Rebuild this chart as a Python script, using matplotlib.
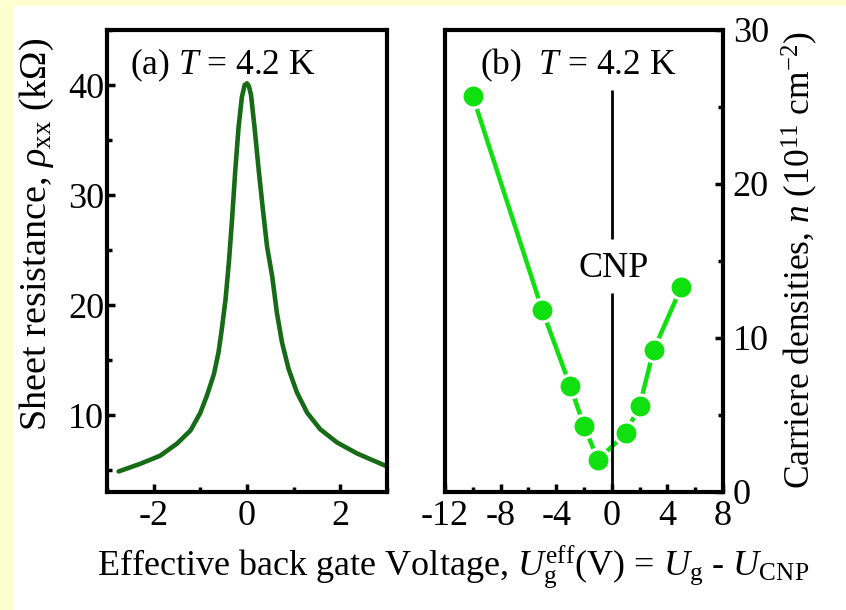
import numpy as np
import matplotlib
matplotlib.use('Agg')
import matplotlib.pyplot as plt
from matplotlib.ticker import MultipleLocator
from matplotlib.patches import Rectangle

plt.rcParams['font.family'] = ['Liberation Serif', 'DejaVu Serif']
plt.rcParams['mathtext.fontset'] = 'custom'
plt.rcParams['mathtext.rm'] = 'Liberation Serif'
plt.rcParams['mathtext.it'] = 'Liberation Serif:italic'
plt.rcParams['mathtext.bf'] = 'Liberation Serif:bold'
plt.rcParams['axes.unicode_minus'] = False

# (a) resistance vs effective gate voltage
ug_a = [-2.75, -2.29, -1.86, -1.5, -1.21, -1.0, -0.86, -0.71, -0.61, -0.54, -0.46,
        -0.39, -0.32, -0.25, -0.18, -0.11, -0.05, 0.0, 0.04, 0.086, 0.16, 0.25,
        0.34, 0.43, 0.54, 0.64, 0.75, 0.89, 1.07, 1.29, 1.57, 1.93, 2.36, 2.96]
rho_xx = [4.87, 5.56, 6.3, 7.4, 8.6, 10.2, 11.75, 13.7, 15.7, 17.8, 20.5,
          23.8, 27.8, 32.3, 36.2, 38.9, 40.0, 40.15, 39.9, 39.1, 36.2, 32.3,
          28.7, 25.3, 22.6, 19.3, 16.6, 14.2, 12.05, 10.2, 8.7, 7.5, 6.5, 5.4]

# (b) carrier densities vs effective gate voltage
ug_b = [-10, -5, -3, -2, -1, 1, 2, 3, 5]
n_dens = [25.7, 11.8, 6.9, 4.3, 2.1, 3.8, 5.6, 9.2, 13.3]

W, H = 846, 610
fig = plt.figure(figsize=(W / 100, H / 100), dpi=100, facecolor='white')

# pale yellow frame strips (left and top)
yel = '#fffed0'
fig.patches.append(Rectangle((0, 0), 13 / W, 1, transform=fig.transFigure,
                             facecolor=yel, edgecolor='none', zorder=0))
fig.patches.append(Rectangle((0, 1 - 6 / H), 1, 6 / H, transform=fig.transFigure,
                             facecolor=yel, edgecolor='none', zorder=0))

ax1 = fig.add_axes([107 / W, 1 - 492 / H, 280 / W, 462 / H])
ax2 = fig.add_axes([445 / W, 1 - 492 / H, 278 / W, 462 / H])

fs_tick = 26
for ax in (ax1, ax2):
    for sp in ax.spines.values():
        sp.set_linewidth(3)
    ax.tick_params(which='both', direction='in', width=2.5, labelsize=fs_tick)
    ax.tick_params(which='major', length=5.5)
    ax.tick_params(which='minor', length=3.5)

# panel (a)
ax1.plot(ug_a, rho_xx, color='#176b17', lw=3.3, solid_joinstyle='round',
         solid_capstyle='round')
ax1.set_xlim(-3, 3)
ax1.set_ylim(3, 45)
ax1.xaxis.set_major_locator(MultipleLocator(2))
ax1.xaxis.set_minor_locator(MultipleLocator(1))
ax1.yaxis.set_major_locator(MultipleLocator(10))
ax1.yaxis.set_minor_locator(MultipleLocator(5))
ax1.tick_params(axis='x', which='both', top=False, pad=6)
ax1.tick_params(axis='y', which='both', right=False, pad=2)
ax1.text(0.082, 0.905, '(a) $T$ = 4.2 K', transform=ax1.transAxes,
         fontsize=25.5, ha='left', va='baseline')

# panel (b)
ax2.plot(ug_b, n_dens, color='#10e010', lw=3.2, marker='o', ms=16.5,
         mfc='#10e010', mec='white', mew=2.2)
ax2.vlines(0, 0, 12.9, color='black', lw=2)
ax2.vlines(0, 16.4, 26.1, color='black', lw=2)
ax2.text(0.1, 14.5, 'CNP', fontsize=26, ha='center', va='center')
ax2.set_xlim(-12, 8)
ax2.set_ylim(0, 30)
ax2.xaxis.set_major_locator(MultipleLocator(4))
ax2.xaxis.set_minor_locator(MultipleLocator(2))
ax2.yaxis.set_major_locator(MultipleLocator(10))
ax2.yaxis.set_minor_locator(MultipleLocator(5))
ax2.yaxis.tick_right()
ax2.tick_params(axis='x', which='both', top=False, pad=6)
ax2.tick_params(axis='y', which='both', left=False, right=True, pad=7)
ax2.text(0.126, 0.905, '(b)  $T$ = 4.2 K', transform=ax2.transAxes,
         fontsize=25.5, ha='left', va='baseline')

# axis labels
fig.text(37 / W, 1 - 234 / H, 'Sheet resistance, $\\rho_{\\rm xx}$ (kΩ)',
         rotation=90, fontsize=27.5, ha='center', va='center')
fig.text(800 / W, 1 - 260 / H, 'Carriere densities, $n$ (10$^{11}$ cm$^{-2}$)',
         rotation=90, fontsize=25.5, ha='center', va='center')
fig.text(453 / W, 1 - 574 / H,
         'Effective back gate Voltage, $U_{\\rm g}^{\\rm eff}$(V) = $U_{\\rm g}$ - $U_{\\rm CNP}$',
         fontsize=26, ha='center', va='baseline')

fig.savefig('out.png', dpi=100, facecolor=fig.get_facecolor())
